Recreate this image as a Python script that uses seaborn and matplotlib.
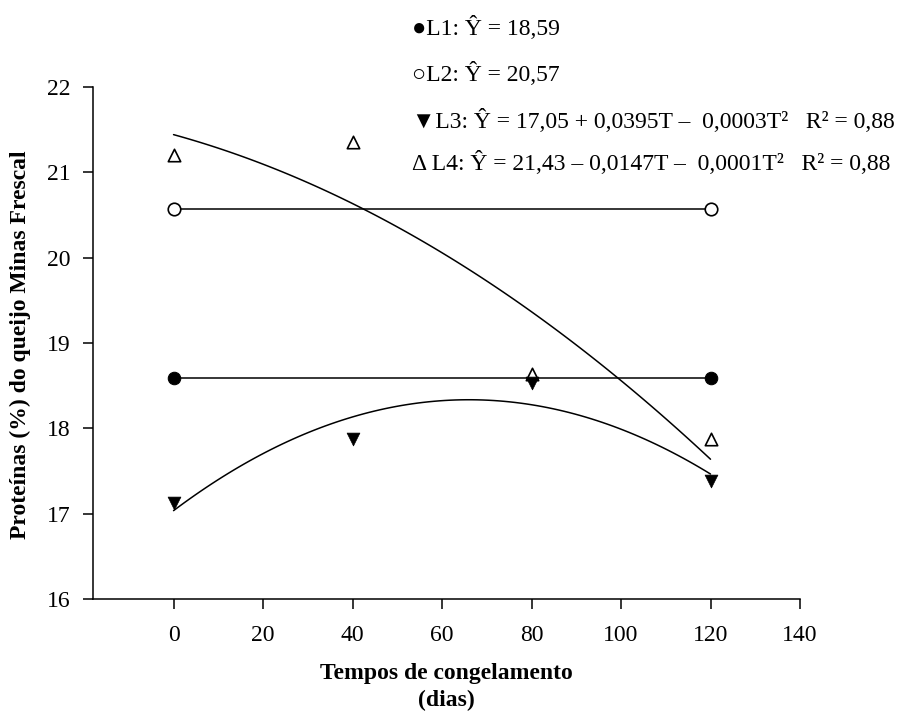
import matplotlib
matplotlib.use("Agg")
import matplotlib.pyplot as plt
import seaborn as sns
import numpy as np
import pandas as pd

# ---- data ----
times = [0, 40, 80, 120]
l1_t = [0, 120]
l1 = [18.59, 18.59]
l2_t = [0, 120]
l2 = [20.57, 20.57]
l3 = [17.12, 17.88, 18.53, 17.38]
l4 = [21.20, 21.36, 18.64, 17.88]

legend_lines = [
    ("●", "L1: Ŷ = 18,59"),
    ("○", "L2: Ŷ = 20,57"),
    ("▼", "L3: Ŷ = 17,05 + 0,0395T –  0,0003T²   R² = 0,88"),
    ("Δ", " L4: Ŷ = 21,43 – 0,0147T –  0,0001T²   R² = 0,88"),
]
x_ticks = [0, 20, 40, 60, 80, 100, 120, 140]
y_ticks = [16, 17, 18, 19, 20, 21, 22]
xlabel_lines = ["Tempos de congelamento", "(dias)"]
ylabel = "Proteínas (%) do queijo Minas Frescal"

sns.set_theme(style="ticks", rc={"text.color": "black", "axes.labelcolor": "black",
                                 "xtick.color": "black", "ytick.color": "black",
                                 "axes.edgecolor": "black"})
plt.rcParams["font.family"] = ["Liberation Serif", "DejaVu Serif", "DejaVu Sans"]
plt.rcParams["axes.linewidth"] = 1.1

FS = 17
fig = plt.figure(figsize=(9.04, 7.13), dpi=100)
ax = fig.add_axes([93 / 904, 1 - 599 / 713, (800 - 93) / 904, (599 - 87) / 713])

lw = 1.1
# L1, L2 constant lines
sns.lineplot(x=l1_t, y=l1, ax=ax, color="black", lw=lw, marker="o", markersize=9,
             markerfacecolor="black", markeredgecolor="black", zorder=3)
sns.lineplot(x=l2_t, y=l2, ax=ax, color="black", lw=lw, marker="o", markersize=9,
             markerfacecolor="white", markeredgecolor="black", markeredgewidth=1.2, zorder=3)
# L3, L4 quadratic fits
sns.regplot(x=times, y=l3, order=2, ci=None, scatter=False, truncate=True, ax=ax,
            line_kws=dict(color="black", lw=lw))
sns.regplot(x=times, y=l4, order=2, ci=None, scatter=False, truncate=True, ax=ax,
            line_kws=dict(color="black", lw=lw))
sns.scatterplot(x=times, y=l4, ax=ax, marker="^", s=80, facecolor="white",
                edgecolor="black", linewidth=1.2, zorder=4)
sns.scatterplot(x=times, y=l3, ax=ax, marker="v", s=85, color="black",
                edgecolor="black", linewidth=0.5, zorder=5)

ax.set_xlim(-18, 140)
ax.set_ylim(16, 22)
ax.set_xticks(x_ticks)
ax.set_yticks(y_ticks)
ax.set_xticklabels([str(v) for v in x_ticks])
ax.set_yticklabels([str(v) for v in y_ticks])
ax.tick_params(axis="both", direction="out", length=7, width=1.1, labelsize=FS,
               colors="black")
ax.tick_params(axis="x", pad=12)
ax.tick_params(axis="y", pad=9)
sns.despine(ax=ax)

ax.set_xlabel("")
ax.set_ylabel("")
fig.text(446 / 904, 1 - 674 / 713, xlabel_lines[0], ha="center", va="center",
         fontsize=FS, fontweight="bold", color="black")
fig.text(446 / 904, 1 - 700 / 713, xlabel_lines[1], ha="center", va="center",
         fontsize=FS, fontweight="bold", color="black")
fig.text(20 / 904, 1 - 345 / 713, ylabel, ha="center", va="center", rotation=90,
         fontsize=FS, fontweight="bold", color="black")

ys = [28, 74, 121, 163]
for (sym, txt), y in zip(legend_lines, ys):
    fig.text(412 / 904, 1 - y / 713, sym + txt, ha="left", va="center", fontsize=FS,
             color="black", family=["Liberation Serif", "DejaVu Sans"])

fig.savefig("out.png", dpi=100)
